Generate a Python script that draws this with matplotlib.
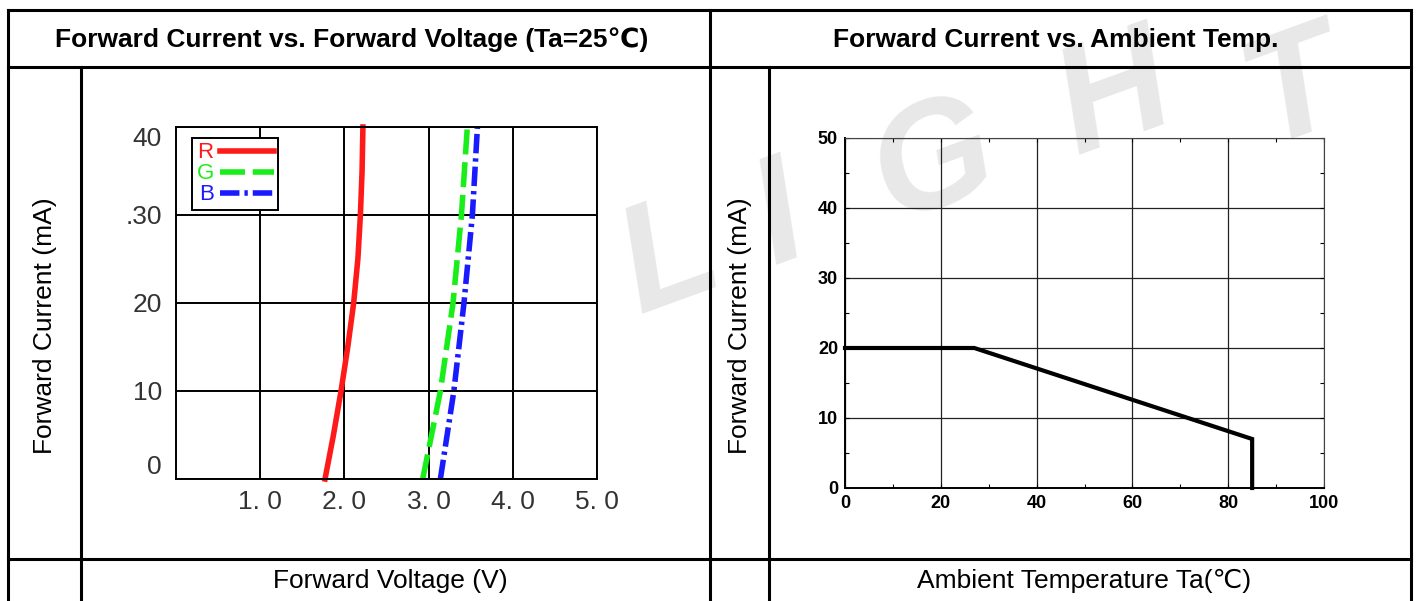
import numpy as np
import matplotlib
matplotlib.use("Agg")
import matplotlib.pyplot as plt
from matplotlib.ticker import MultipleLocator

plt.rcParams['font.family'] = ['Liberation Sans', 'DejaVu Sans']

# Forward current vs forward voltage (Ta=25C)
if_red = [0, 5, 10, 15, 20, 25, 30, 35, 40]
vf_red = [1.77, 1.87, 1.96, 2.04, 2.11, 2.16, 2.19, 2.21, 2.22]
if_gb = [0, 10, 20, 30, 40]
vf_green = [2.93, 3.14, 3.29, 3.39, 3.46]
vf_blue = [3.14, 3.30, 3.42, 3.52, 3.58]
vf_ticks = [1, 2, 3, 4, 5]
vf_ticklabels = ['1. 0', '2. 0', '3. 0', '4. 0', '5. 0']
if_ticks = [0, 10, 20, 30, 40]
if_ticklabels = ['0', '10', '20', '.30', '40']

# Forward current vs ambient temp (derating)
ta = [0, 27, 85, 85]
if_max = [20, 20, 7, 0]

W, H = 1418, 601
fig = plt.figure(figsize=(W / 100, H / 100), dpi=100)


def px_box(left, top, right, bottom):
    # pixel box -> figure fraction [l, b, w, h]
    return [left / W, 1 - bottom / H, (right - left) / W, (bottom - top) / H]


# background layer: table frame, watermark, cell texts
bg = fig.add_axes([0, 0, 1, 1], zorder=0)
bg.set_xlim(0, W)
bg.set_ylim(H, 0)
bg.axis('off')

# faint watermark, one letter at a time along a slanted baseline
wm_letters = ['L', 'I', 'G', 'H', 'T']
wm_x = [670, 780, 935, 1115, 1295]
for ch, x in zip(wm_letters, wm_x):
    y = 165 - (x - 935) * np.tan(np.radians(20))
    bg.text(x, max(y, 92), ch, fontsize=110, fontweight='bold', fontstyle='italic',
            color='#e8e8e8', rotation=20, ha='center', va='center', zorder=0)

lw_tab = 2.2
for y in [10, 67, 559]:
    bg.plot([8, 1411], [y, y], color='black', lw=lw_tab, solid_capstyle='projecting')
for x in [8, 710, 1411]:
    bg.plot([x, x], [10, H], color='black', lw=lw_tab, solid_capstyle='projecting')
for x in [81, 769]:
    bg.plot([x, x], [67, H], color='black', lw=lw_tab)

bg.text(352, 40, 'Forward Current vs. Forward Voltage (Ta=25℃)', fontsize=19,
        fontweight='bold', ha='center', va='center')
bg.text(1056, 40, 'Forward Current vs. Ambient Temp.', fontsize=19,
        fontweight='bold', ha='center', va='center')
bg.text(390, 581, 'Forward Voltage (V)', fontsize=19, ha='center', va='center')
bg.text(1084, 581, 'Ambient Temperature Ta(℃)', fontsize=19, ha='center', va='center')
bg.text(45, 326, 'Forward Current (mA)', fontsize=19, rotation=90, ha='center', va='center')
bg.text(740, 326, 'Forward Current (mA)', fontsize=19, rotation=90, ha='center', va='center')

# left chart
ax1 = fig.add_axes(px_box(176, 127, 597, 479), zorder=1)
ax1.set_facecolor('none')
ax1.plot(vf_red, if_red, color='#ff1a1a', lw=4, label='R', clip_on=False)
ax1.plot(vf_green, if_gb, color='#1aee1a', lw=4, dashes=(4.5, 1.4), label='G', clip_on=False)
ax1.plot(vf_blue, if_gb, color='#1a1aff', lw=4, dashes=(3.5, 0.9, 0.6, 0.9), label='B', clip_on=False)
ax1.set_xlim(0, 5)
ax1.set_ylim(0, 40)
ax1.set_xticks(vf_ticks)
ax1.set_xticklabels(vf_ticklabels)
ax1.set_yticks(if_ticks)
ax1.set_yticklabels(if_ticklabels)
ax1.grid(color='black', lw=1.4)
ax1.set_axisbelow(True)
for s in ax1.spines.values():
    s.set_linewidth(1.4)
ax1.tick_params(length=0, labelsize=19, labelcolor='#333333')
ax1.tick_params(axis='y', pad=10)
ax1.tick_params(axis='x', pad=8)
ylbls = ax1.get_yticklabels()
ylbls[0].set_va('bottom')
ylbls[-1].set_va('top')
leg = ax1.legend(loc='upper left', bbox_to_anchor=(0.038, 0.969), fontsize=16,
                 markerfirst=False, labelcolor='linecolor', fancybox=False,
                 framealpha=1, edgecolor='black', borderpad=0.2, labelspacing=0.0,
                 handlelength=2.4, handletextpad=0.3, borderaxespad=0)
leg.get_frame().set_linewidth(1.4)

# right chart
ax2 = fig.add_axes(px_box(845, 138, 1324, 488), zorder=1)
ax2.set_facecolor('none')
ax2.plot(ta, if_max, color='black', lw=3, solid_joinstyle='miter', clip_on=False)
ax2.set_xlim(0, 100)
ax2.set_ylim(0, 50)
ax2.xaxis.set_major_locator(MultipleLocator(20))
ax2.xaxis.set_minor_locator(MultipleLocator(10))
ax2.yaxis.set_major_locator(MultipleLocator(10))
ax2.yaxis.set_minor_locator(MultipleLocator(5))
ax2.grid(which='major', color='#222222', lw=0.9)
ax2.set_axisbelow(True)
ax2.tick_params(which='both', direction='in', top=True, right=True, length=3,
                width=0.8, labelsize=13, pad=5)
for lbl in ax2.get_xticklabels() + ax2.get_yticklabels():
    lbl.set_fontweight('bold')
ax2.spines['left'].set_linewidth(1.4)
ax2.spines['bottom'].set_linewidth(1.4)
ax2.spines['top'].set_linewidth(0.8)
ax2.spines['right'].set_linewidth(0.8)
ax2.spines['top'].set_color('#444444')
ax2.spines['right'].set_color('#444444')

fig.savefig('out.png', dpi=100)
